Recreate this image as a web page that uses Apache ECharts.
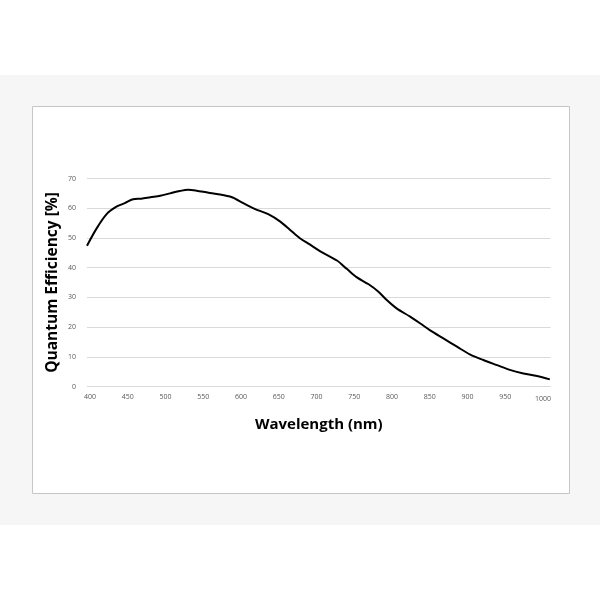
<!DOCTYPE html>
<html>
<head>
<meta charset="utf-8">
<script src="https://cdn.jsdelivr.net/npm/echarts@6/dist/echarts.min.js"></script>
<style>html,body{margin:0;padding:0;background:#fff;}#c{width:600px;height:600px;}</style>
</head>
<body>
<div id="c"></div>
<script>
const wavelengths = [396,409,422,435,446,457,468,480,493,506,519,530,541,557,568,588,603,618,636,652,665,678,691,705,727,740,753,769,782,793,806,824,837,850,868,886,903,921,939,956,974,992,1009];
const qe = [47.4,53.3,58.0,60.5,61.7,63.0,63.2,63.7,64.2,65.0,65.8,66.2,65.9,65.2,64.8,63.7,61.7,59.8,58.0,55.5,52.7,49.9,47.8,45.5,42.4,39.6,36.8,34.4,31.9,29.1,26.3,23.5,21.3,19.0,16.2,13.4,10.8,8.9,7.2,5.6,4.4,3.5,2.4];
const xTicks = [400,450,500,550,600,650,700,750,800,850,900,950,1000];
const yTicks = [0,10,20,30,40,50,60,70];

const chart = echarts.init(document.getElementById('c'), null, {renderer:'canvas'});
chart.setOption({
  animation: false,
  backgroundColor: '#ffffff',
  graphic: [
    {type:'rect', z:-10, shape:{x:0,y:75,width:600,height:450}, style:{fill:'#f6f6f6'}},
    {type:'rect', z:-9, shape:{x:32.5,y:106.5,width:537,height:387}, style:{fill:'#ffffff', stroke:'#c6c6c6', lineWidth:1}}
  ],
  grid: {left:87, right:49.4, top:178.5, bottom:213.5, containLabel:false},
  xAxis: {
    type:'value', min:396, max:1010,
    name:'Wavelength (nm)', nameLocation:'middle', nameGap:31, nameMoveOverlap:false,
    nameTextStyle:{fontFamily:'Open Sans', fontWeight:'bold', fontSize:15, color:'#000'},
    axisLine:{show:false}, axisTick:{show:false}, splitLine:{show:false},
    axisLabel:{customValues:xTicks, fontFamily:'Open Sans', fontSize:7, color:'#595959', margin:7,
      formatter:(v)=> v===1000 ? '{b|1000}' : String(v),
      rich:{b:{fontFamily:'Open Sans', fontSize:7, color:'#595959', padding:[2,0,0,0]}}}
  },
  yAxis: {
    type:'value', min:0, max:70, interval:10,
    name:'Quantum Efficiency [%]', nameLocation:'middle', nameGap:26, nameMoveOverlap:false,
    nameTextStyle:{fontFamily:'Open Sans', fontWeight:'bold', fontSize:15.5, color:'#000'},
    axisLine:{show:false}, axisTick:{show:false},
    splitLine:{lineStyle:{color:'#d9d9d9', width:1}},
    axisLabel:{customValues:yTicks, fontFamily:'Open Sans', fontSize:7, color:'#595959', margin:11}
  },
  series: [{
    type:'line', smooth:0.3, showSymbol:false,
    lineStyle:{color:'#000', width:2},
    data: wavelengths.map((w,i)=>[w, qe[i]])
  }]
});
</script>
</body>
</html>
